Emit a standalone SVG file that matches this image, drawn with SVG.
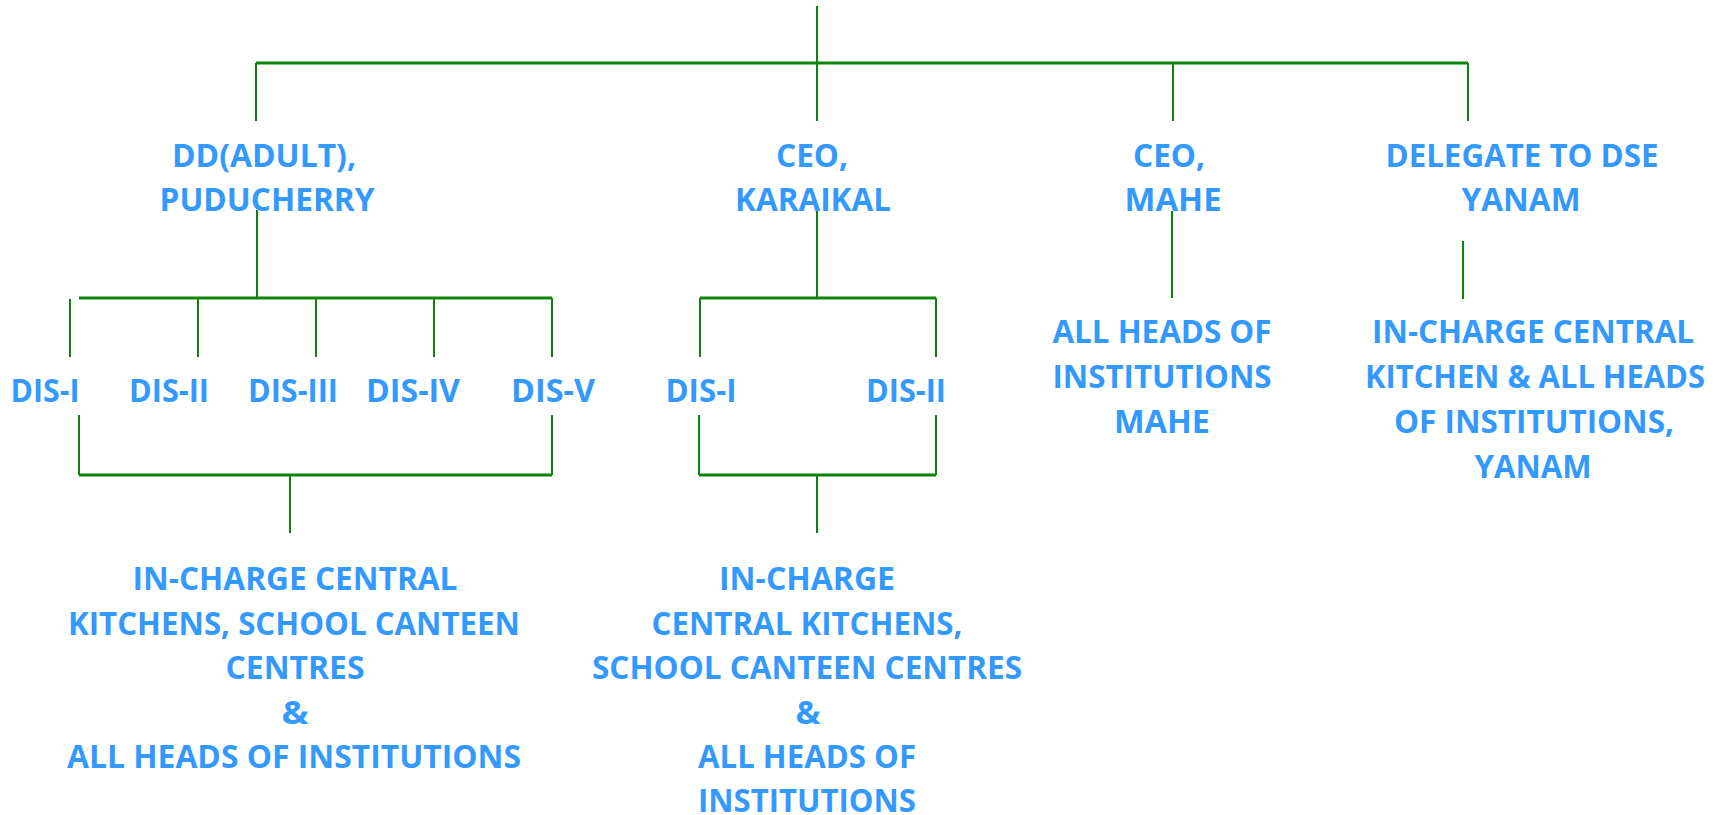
<svg xmlns="http://www.w3.org/2000/svg" width="1725" height="815" viewBox="0 0 1725 815">
<style>
text{font-family:"Open Sans","Liberation Sans",sans-serif;font-weight:bold;font-size:32px;fill:#3399ff;text-anchor:middle}
.h{stroke:#0a840a;stroke-width:3;fill:none}
.v{stroke:#0a840a;stroke-width:2;fill:none}
</style>
<rect width="1725" height="815" fill="#ffffff"/>
<g id="connectors">
<path class="v" d="M817,6V63"/>
<path class="h" d="M256,63H1468"/>
<path class="v" d="M256,63V121M817,63V121M1173,63V121M1468,63V121"/>
<path class="v" d="M257,210V298"/>
<path class="h" d="M79,298H552"/>
<path class="v" d="M70,299V357M198,298V357M316,298V357M434,298V357M552,298V357"/>
<path class="v" d="M79,415V475M552,415V475"/>
<path class="h" d="M79,475H552"/>
<path class="v" d="M290,475V533"/>
<path class="v" d="M817,210V298"/>
<path class="h" d="M700,298H936"/>
<path class="v" d="M700,298V357M936,298V357"/>
<path class="v" d="M699,415V475M936,415V475"/>
<path class="h" d="M699,475H936"/>
<path class="v" d="M817,475V533"/>
<path class="v" d="M1172,211V298"/>
<path class="v" d="M1463,241V299"/>
</g>
<g id="dd-adult">
<text x="264" y="167" textLength="184" lengthAdjust="spacingAndGlyphs">DD(ADULT),</text>
<text x="267" y="211" textLength="215" lengthAdjust="spacingAndGlyphs">PUDUCHERRY</text>
</g>
<g id="ceo-karaikal">
<text x="812" y="167" textLength="72" lengthAdjust="spacingAndGlyphs">CEO,</text>
<text x="813" y="211" textLength="156" lengthAdjust="spacingAndGlyphs">KARAIKAL</text>
</g>
<g id="ceo-mahe">
<text x="1169" y="167" textLength="72" lengthAdjust="spacingAndGlyphs">CEO,</text>
<text x="1173" y="211" textLength="97" lengthAdjust="spacingAndGlyphs">MAHE</text>
</g>
<g id="dse-yanam">
<text x="1522" y="167" textLength="273" lengthAdjust="spacingAndGlyphs">DELEGATE TO DSE</text>
<text x="1521" y="211" textLength="119" lengthAdjust="spacingAndGlyphs">YANAM</text>
</g>
<g id="p-dis1"><text x="45" y="402" textLength="69" lengthAdjust="spacingAndGlyphs">DIS-I</text></g>
<g id="p-dis2"><text x="169" y="402" textLength="80" lengthAdjust="spacingAndGlyphs">DIS-II</text></g>
<g id="p-dis3"><text x="293" y="402" textLength="90" lengthAdjust="spacingAndGlyphs">DIS-III</text></g>
<g id="p-dis4"><text x="413" y="402" textLength="94" lengthAdjust="spacingAndGlyphs">DIS-IV</text></g>
<g id="p-dis5"><text x="553" y="402" textLength="84" lengthAdjust="spacingAndGlyphs">DIS-V</text></g>
<g id="k-dis1"><text x="701" y="402" textLength="71" lengthAdjust="spacingAndGlyphs">DIS-I</text></g>
<g id="k-dis2"><text x="906" y="402" textLength="80" lengthAdjust="spacingAndGlyphs">DIS-II</text></g>
<g id="mahe-heads">
<text x="1162" y="343" textLength="219" lengthAdjust="spacingAndGlyphs">ALL HEADS OF</text>
<text x="1162" y="388" textLength="219" lengthAdjust="spacingAndGlyphs">INSTITUTIONS</text>
<text x="1162" y="433" textLength="96" lengthAdjust="spacingAndGlyphs">MAHE</text>
</g>
<g id="yanam-heads">
<text x="1533" y="343" textLength="322" lengthAdjust="spacingAndGlyphs">IN-CHARGE CENTRAL</text>
<text x="1535" y="388" textLength="340" lengthAdjust="spacingAndGlyphs">KITCHEN &amp; ALL HEADS</text>
<text x="1534" y="433" textLength="280" lengthAdjust="spacingAndGlyphs">OF INSTITUTIONS,</text>
<text x="1533" y="478" textLength="117" lengthAdjust="spacingAndGlyphs">YANAM</text>
</g>
<g id="puducherry-kitchens">
<text x="295" y="590" textLength="325" lengthAdjust="spacingAndGlyphs">IN-CHARGE CENTRAL</text>
<text x="294" y="635" textLength="452" lengthAdjust="spacingAndGlyphs">KITCHENS, SCHOOL CANTEEN</text>
<text x="295" y="679" textLength="139" lengthAdjust="spacingAndGlyphs">CENTRES</text>
<text x="295" y="724" textLength="27" lengthAdjust="spacingAndGlyphs">&amp;</text>
<text x="294" y="768" textLength="454" lengthAdjust="spacingAndGlyphs">ALL HEADS OF  INSTITUTIONS</text>
</g>
<g id="karaikal-kitchens">
<text x="807" y="590" textLength="176" lengthAdjust="spacingAndGlyphs">IN-CHARGE</text>
<text x="807" y="635" textLength="311" lengthAdjust="spacingAndGlyphs">CENTRAL KITCHENS,</text>
<text x="807" y="679" textLength="430" lengthAdjust="spacingAndGlyphs">SCHOOL CANTEEN CENTRES</text>
<text x="808" y="724" textLength="25" lengthAdjust="spacingAndGlyphs">&amp;</text>
<text x="807" y="768" textLength="218" lengthAdjust="spacingAndGlyphs">ALL HEADS OF</text>
<text x="807" y="812" textLength="218" lengthAdjust="spacingAndGlyphs">INSTITUTIONS</text>
</g>
</svg>
